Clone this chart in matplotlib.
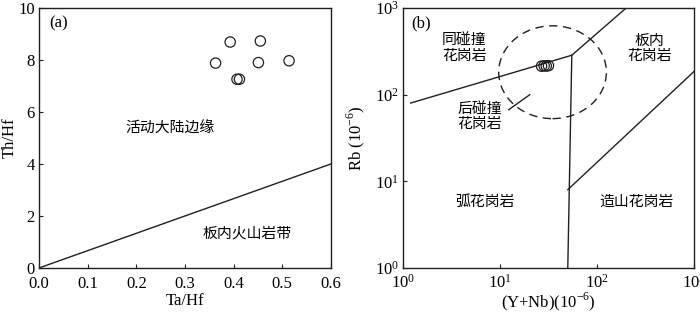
import matplotlib
matplotlib.use("Agg")
import matplotlib.pyplot as plt
from matplotlib.patches import Ellipse
from matplotlib.ticker import FixedLocator, FixedFormatter, NullLocator

plt.rcParams['font.family'] = ['Liberation Serif', 'Noto Sans CJK SC']
plt.rcParams['mathtext.fontset'] = 'custom'
plt.rcParams['mathtext.rm'] = 'Liberation Serif'
plt.rcParams['axes.linewidth'] = 1.0
cjk = ['Noto Sans CJK SC']
ink = '#231f20'

# (a) Ta/Hf - Th/Hf
ta_hf = [0.363, 0.393, 0.455, 0.451, 0.514, 0.407, 0.412]
th_hf = [7.88, 8.69, 8.73, 7.90, 7.97, 7.26, 7.26]
boundary_a_x = [0.0, 0.6]
boundary_a_y = [0.0, 4.0]

# (b) (Y+Nb) - Rb
ynb = [26.8, 28.5, 30.0, 31.6]
rb = [213, 215, 214, 216]
syn_x, syn_y = [1.2, 55], [80, 285]
wpg_x, wpg_y = [55, 200], [285, 1000]
vert_x, vert_y = [55, 50], [285, 1]
org_x, org_y = [50, 1000], [8, 185]
tick_x, tick_y = [12.3, 20.3], [67, 100]

fig = plt.figure(figsize=(7, 3.13), dpi=100)
ax1 = fig.add_axes([0.0557, 0.1438, 0.417, 0.8307])
ax2 = fig.add_axes([0.5757, 0.1438, 0.4157, 0.8307])

for ax in (ax1, ax2):
    ax.tick_params(direction='in', length=3, width=0.8, labelsize=12, colors=ink,
                   labelcolor='black', pad=3)
    ax.tick_params(axis='x', pad=6)
    for s in ax.spines.values():
        s.set_color(ink)

ax1.plot(boundary_a_x, boundary_a_y, color=ink, lw=1.0)
ax1.scatter(ta_hf, th_hf, s=55, facecolors='none', edgecolors=ink, linewidths=0.9, zorder=3)
ax1.set_xlim(0, 0.6)
ax1.set_ylim(0, 10)
ax1.set_xticks([0.0, 0.1, 0.2, 0.3, 0.4, 0.5, 0.6])
ax1.set_xticklabels(['0.0', '0.1', '0.2', '0.3', '0.4', '0.5', '0.6'])
ax1.set_yticks([0, 2, 4, 6, 8, 10])
ax1.set_xlabel('Ta/Hf', fontsize=12)
ax1.set_ylabel('Th/Hf', fontsize=12)
ax1.xaxis.set_label_coords(0.5, -0.098)
ax1.yaxis.set_label_coords(-0.072, 0.5)
ax1.text(0.04, 9.4, '(a)', fontsize=12, ha='center', va='center')
ax1.text(0.27, 5.37, '活动大陆边缘', family=cjk, fontsize=10.7, ha='center', va='center')
ax1.text(0.427, 1.32, '板内火山岩带', family=cjk, fontsize=10.7, ha='center', va='center')

ax2.set_xscale('log')
ax2.set_yscale('log')
ax2.plot(syn_x, syn_y, color=ink, lw=1.0)
ax2.plot(wpg_x, wpg_y, color=ink, lw=1.0)
ax2.plot(vert_x, vert_y, color=ink, lw=1.0)
ax2.plot(org_x, org_y, color=ink, lw=1.0)
ax2.plot(tick_x, tick_y, color=ink, lw=1.0)
ax2.add_patch(Ellipse((0.514, 0.753), 0.370, 0.357, transform=ax2.transAxes,
                      fill=False, ls=(0, (6, 4)), lw=1.0, edgecolor=ink))
ax2.scatter(ynb, rb, s=55, facecolors='none', edgecolors=ink, linewidths=0.9, zorder=3)
ax2.set_xlim(1, 1000)
ax2.set_ylim(1, 1000)
dec = [1, 10, 100, 1000]
dec_lab = [r'$\mathregular{10^{%d}}$' % i for i in range(4)]
ax2.xaxis.set_major_locator(FixedLocator(dec))
ax2.xaxis.set_major_formatter(FixedFormatter(dec_lab))
ax2.yaxis.set_major_locator(FixedLocator(dec))
ax2.yaxis.set_major_formatter(FixedFormatter(dec_lab))
ax2.xaxis.set_minor_locator(NullLocator())
ax2.yaxis.set_minor_locator(NullLocator())
ax2.tick_params(axis='x', pad=4)
ax2.set_xlabel(r'(Y+Nb)(10$^{-6}$)', fontsize=12)
ax2.set_ylabel(r'Rb (10$^{-6}$)', fontsize=12)
ax2.xaxis.set_label_coords(0.5, -0.088)
ax2.yaxis.set_label_coords(-0.124, 0.5)
ax2.text(1.55, 660, '(b)', fontsize=12, ha='center', va='center')
ax2.text(4.3, 345, '同碰撞\n花岗岩', family=cjk, fontsize=10.7, ha='center', va='center', linespacing=1.1)
ax2.text(351, 345, '板内\n花岗岩', family=cjk, fontsize=10.7, ha='center', va='center', linespacing=1.1)
ax2.text(6.2, 56, '后碰撞\n花岗岩', family=cjk, fontsize=10.7, ha='center', va='center', linespacing=1.1)
ax2.text(7.0, 5.8, '弧花岗岩', family=cjk, fontsize=10.7, ha='center', va='center')
ax2.text(256, 5.8, '造山花岗岩', family=cjk, fontsize=10.7, ha='center', va='center')

fig.savefig('out.png', dpi=100)
